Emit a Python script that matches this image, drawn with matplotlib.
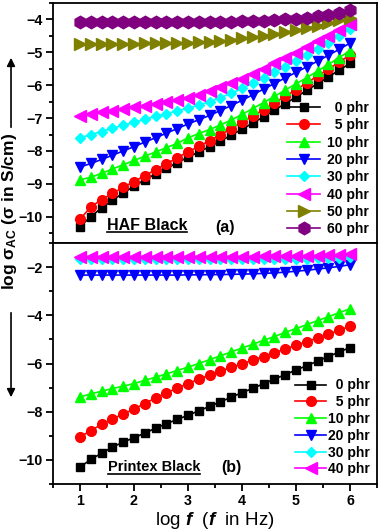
import matplotlib
matplotlib.use("Agg")
from matplotlib import pyplot as plt
from matplotlib.lines import Line2D
from matplotlib.patches import FancyArrowPatch
from matplotlib.ticker import MultipleLocator

plt.rcParams['font.family'] = ['Liberation Sans', 'DejaVu Sans']
plt.rcParams['font.weight'] = 'bold'
plt.rcParams['mathtext.fontset'] = 'custom'
plt.rcParams['mathtext.rm'] = 'Liberation Sans:bold'
plt.rcParams['mathtext.bf'] = 'Liberation Sans:bold'
plt.rcParams['mathtext.it'] = 'Liberation Sans:italic:bold'
plt.rcParams['mathtext.default'] = 'regular'

log_f = [1.0, 1.2, 1.4, 1.6, 1.8, 2.0, 2.2, 2.4, 2.6, 2.8, 3.0, 3.2, 3.4,
         3.6, 3.8, 4.0, 4.2, 4.4, 4.6, 4.8, 5.0, 5.2, 5.4, 5.6, 5.8, 6.0]

# HAF black, log sigma_AC
haf_labels = ["  0 phr", "  5 phr", "10 phr", "20 phr",
              "30 phr", "40 phr", "50 phr", "60 phr"]
haf_0 = [-10.30, -10.00, -9.73, -9.50, -9.28, -9.07, -8.88, -8.70, -8.53, -8.36,
         -8.19, -8.03, -7.87, -7.70, -7.52, -7.34, -7.15, -6.96, -6.76, -6.56,
         -6.36, -6.16, -5.95, -5.75, -5.54, -5.34]
haf_5 = [-10.08, -9.70, -9.48, -9.29, -9.11, -8.93, -8.75, -8.57, -8.39, -8.21,
         -8.03, -7.86, -7.69, -7.51, -7.32, -7.13, -6.94, -6.74, -6.54, -6.34,
         -6.14, -5.93, -5.72, -5.51, -5.30, -5.08]
haf_10 = [-8.88, -8.80, -8.68, -8.55, -8.42, -8.29, -8.16, -8.03, -7.90, -7.77,
          -7.60, -7.47, -7.35, -7.21, -7.06, -6.89, -6.71, -6.53, -6.34, -6.15,
          -5.96, -5.77, -5.57, -5.37, -5.16, -4.95]
haf_20 = [-8.49, -8.38, -8.26, -8.13, -8.00, -7.87, -7.73, -7.60, -7.46, -7.32,
          -7.18, -7.05, -6.92, -6.77, -6.62, -6.46, -6.29, -6.12, -5.95, -5.78,
          -5.61, -5.44, -5.27, -5.09, -4.91, -4.72]
haf_30 = [-7.60, -7.50, -7.41, -7.31, -7.22, -7.13, -7.04, -6.95, -6.87, -6.78,
          -6.70, -6.61, -6.50, -6.38, -6.25, -6.10, -5.94, -5.78, -5.61, -5.44,
          -5.26, -5.08, -4.90, -4.71, -4.51, -4.30]
haf_40 = [-6.95, -6.88, -6.83, -6.78, -6.72, -6.67, -6.62, -6.57, -6.52, -6.46,
          -6.40, -6.30, -6.19, -6.07, -5.94, -5.80, -5.65, -5.50, -5.34, -5.18,
          -5.01, -4.84, -4.67, -4.50, -4.32, -4.14]
haf_50 = [-4.76, -4.76, -4.75, -4.75, -4.74, -4.74, -4.73, -4.73, -4.72, -4.72,
          -4.71, -4.70, -4.69, -4.66, -4.62, -4.58, -4.54, -4.50, -4.45, -4.39,
          -4.33, -4.26, -4.19, -4.11, -4.03, -3.95]
haf_60 = [-4.09, -4.09, -4.09, -4.09, -4.09, -4.09, -4.09, -4.09, -4.09, -4.09,
          -4.09, -4.08, -4.08, -4.07, -4.07, -4.06, -4.05, -4.04, -4.02, -4.00,
          -3.98, -3.95, -3.91, -3.86, -3.79, -3.71]

# Printex black, log sigma_AC
ptx_labels = ["  0 phr", "  5 phr", "10 phr", "20 phr", "30 phr", "40 phr"]
ptx_0 = [-10.30, -9.98, -9.72, -9.47, -9.26, -9.08, -8.89, -8.68, -8.50, -8.32,
         -8.15, -7.96, -7.78, -7.59, -7.40, -7.21, -7.03, -6.84, -6.65, -6.46,
         -6.27, -6.09, -5.90, -5.71, -5.52, -5.34]
ptx_5 = [-9.05, -8.78, -8.53, -8.30, -8.10, -7.89, -7.66, -7.43, -7.22, -7.02,
         -6.83, -6.65, -6.48, -6.32, -6.16, -6.01, -5.86, -5.71, -5.55, -5.40,
         -5.25, -5.09, -4.94, -4.78, -4.62, -4.45]
ptx_10 = [-7.39, -7.26, -7.15, -7.04, -6.94, -6.83, -6.70, -6.57, -6.43, -6.29,
          -6.15, -6.00, -5.84, -5.68, -5.52, -5.36, -5.20, -5.04, -4.88, -4.71,
          -4.55, -4.39, -4.22, -4.06, -3.89, -3.73]
ptx_20 = [-2.33, -2.33, -2.33, -2.33, -2.33, -2.33, -2.33, -2.33, -2.33, -2.33,
          -2.32, -2.32, -2.31, -2.31, -2.30, -2.29, -2.28, -2.26, -2.24, -2.21,
          -2.17, -2.13, -2.08, -2.03, -1.97, -1.90]
ptx_30 = [-1.68, -1.68, -1.68, -1.68, -1.68, -1.68, -1.68, -1.68, -1.68, -1.68,
          -1.68, -1.68, -1.68, -1.68, -1.68, -1.68, -1.67, -1.67, -1.67, -1.66,
          -1.66, -1.65, -1.64, -1.63, -1.61, -1.58]
ptx_40 = [-1.56, -1.56, -1.56, -1.56, -1.56, -1.56, -1.56, -1.56, -1.56, -1.56,
          -1.56, -1.56, -1.56, -1.56, -1.56, -1.56, -1.56, -1.55, -1.55, -1.55,
          -1.54, -1.53, -1.52, -1.51, -1.49, -1.46]

colors = ["black", "#ff0000", "#00ff00", "#0000ff", "#00ffff", "#ff00ff",
          "#808000", "#800080"]
markers = ["s", "o", "^", "v", "D", "<", ">", "h"]
msizes = [6, 7, 7.5, 7.5, 5.5, 8, 8, 9]

fig = plt.figure(figsize=(3.8, 5.32), dpi=100)
ax1 = fig.add_axes([0.1395, 0.5432, 0.8525, 0.4512])
ax2 = fig.add_axes([0.1395, 0.0902, 0.8525, 0.4530])

haf = [haf_0, haf_5, haf_10, haf_20, haf_30, haf_40, haf_50, haf_60]
for i, ys in enumerate(haf):
    ax1.plot(log_f, ys, color=colors[i], marker=markers[i], ms=msizes[i],
             lw=1.2, label=haf_labels[i])
ptx = [ptx_0, ptx_5, ptx_10, ptx_20, ptx_30, ptx_40]
for i, ys in enumerate(ptx):
    ax2.plot(log_f, ys, color=colors[i], marker=markers[i], ms=msizes[i],
             lw=1.2, label=ptx_labels[i])

for ax in (ax1, ax2):
    ax.set_xlim(0.5, 6.5)
    ax.xaxis.set_major_locator(MultipleLocator(1))
    ax.xaxis.set_minor_locator(MultipleLocator(0.5))
    ax.tick_params(which='both', direction='out', width=1.3, labelsize=10.3,
                   top=False, right=False, pad=2.5)
    ax.tick_params(which='major', length=5)
    ax.tick_params(which='minor', length=3)
    for s in ax.spines.values():
        s.set_linewidth(1.3)

ax1.set_ylim(-10.8, -3.5)
ax1.yaxis.set_major_locator(MultipleLocator(1))
ax1.yaxis.set_minor_locator(MultipleLocator(0.5))
ax1.tick_params(axis='x', which='both', bottom=False, labelbottom=False)

ax2.set_ylim(-11, -1)
ax2.yaxis.set_major_locator(MultipleLocator(2))
ax2.yaxis.set_minor_locator(MultipleLocator(1))
ax2.set_xlabel(r"log $\mathit{f}$  ($\mathit{f}$  in Hz)", fontsize=13.5,
               labelpad=1)

ax1.legend(loc='lower right', bbox_to_anchor=(0.975, 0.028), frameon=False,
           fontsize=10, handlelength=2.37, labelspacing=0.24,
           handletextpad=0.5, borderaxespad=0, borderpad=0)
ax2.legend(loc='lower right', bbox_to_anchor=(0.978, 0.032), frameon=False,
           fontsize=10, handlelength=2.23, labelspacing=0.2,
           handletextpad=0.12, borderaxespad=0, borderpad=0)

t1 = ax1.text(0.166, 0.075, "HAF Black", transform=ax1.transAxes, fontsize=11.5,
              va='center', ha='left')
ax1.text(0.50, 0.065, "(a)", transform=ax1.transAxes, fontsize=11.5,
         va='center', ha='left')
t2 = ax2.text(0.169, 0.07, "Printex Black", transform=ax2.transAxes,
              fontsize=10.5, va='center', ha='left')
ax2.text(0.52, 0.07, "(b)", transform=ax2.transAxes, fontsize=11.5,
         va='center', ha='left')

fig.text(0.024, 0.6034, r"log $\sigma_{AC}$ ($\sigma$ in S/cm)", rotation=90,
         ha='center', va='center', fontsize=12.5)
fig.add_artist(FancyArrowPatch((0.029, 0.7556), (0.029, 0.8966),
                               transform=fig.transFigure, arrowstyle='-|>',
                               mutation_scale=12, lw=1.2, color='black'))
fig.add_artist(FancyArrowPatch((0.029, 0.4173), (0.029, 0.2481),
                               transform=fig.transFigure, arrowstyle='-|>',
                               mutation_scale=12, lw=1.2, color='black'))

# underline panel names
fig.canvas.draw()
inv = fig.transFigure.inverted()
for t in (t1, t2):
    bb = t.get_window_extent()
    (x0, y0), (x1, _) = inv.transform([(bb.x0, bb.y0), (bb.x1, bb.y1)])
    fig.add_artist(Line2D([x0, x1], [y0 + 0.001, y0 + 0.001],
                          transform=fig.transFigure, color='black', lw=1.2))

fig.savefig("out.png", dpi=100)
